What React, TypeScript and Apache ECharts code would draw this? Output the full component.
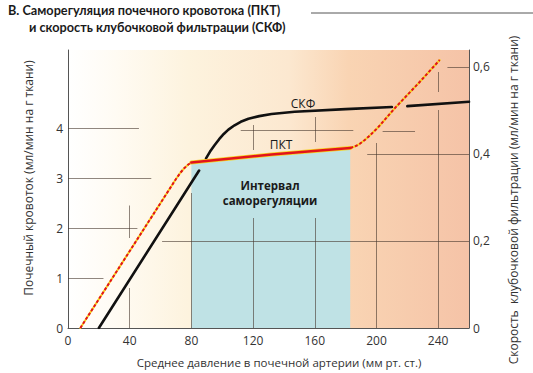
import React, { useEffect, useRef } from 'react';
import * as echarts from 'echarts';

// Axis ticks
const xTicks = [0, 40, 80, 120, 160, 200, 240];
const leftTicks = [0, 1, 2, 3, 4];
const rightTicks = [0, 0.2, 0.4, 0.6];

// ПКТ — почечный кровоток (мл/мин на г ткани), left axis
const pktRise = [[8, 0], [70, 2.98], [73, 3.11], [75.5, 3.2], [78, 3.27], [80, 3.31]];
const pktPlateau = [[80, 3.31], [132, 3.47], [183, 3.6]];
const pktHigh = [[183, 3.6], [186, 3.63], [189, 3.68], [192, 3.75], [195, 3.83], [198, 3.92], [201, 4.01], [212, 4.4], [228, 4.92], [241, 5.36]];

// СКФ — скорость клубочковой фильтрации (мл/мин на г ткани), right axis
const gfrRise = [[20, 0], [85, 0.362]];
const gfrBend = [[89.5, 0.39], [92, 0.405], [95, 0.42], [98, 0.434], [101, 0.446], [104, 0.456], [108, 0.466], [112, 0.474], [117, 0.481], [124, 0.487], [132, 0.492], [147, 0.497], [180, 0.503], [210, 0.508]];
const gfrHigh = [[220, 0.51], [260, 0.52]];

// Decorative broken grid segments (data units)
const hSegLeft = [[4, 0, 46], [3.96, 112, 185], [3.94, 204, 225], [3, 0, 54], [2, 0, 45], [1, 0, 23]]; // [y, x1, x2]
const vSegLeft = [[40, 1.8, 2.45], [40, 0, 0.8], [80, 0, 2.7], [120, 0, 2.2], [120, 3.56, 4.06], [160, 0, 2.2], [160, 3.72, 4.22], [200, 0, 3.7], [240, 0, 4.36], [240, 4.72, 5.12]]; // [x, y1, y2]
const hSegRight = [[0.6, 246, 260], [0.4, 194, 260], [0.2, 61, 260]]; // [y, x1, x2]

const FONT = '"Open Sans", "Noto Sans", sans-serif';
const TFONT = 'Lato, "Open Sans", sans-serif';
const RED = '#e2141c';
const YELLOW = '#f6d31e';
const GRIDC = 'rgba(70,55,45,0.6)';

export default function App() {
  const ref = useRef<HTMLDivElement>(null);
  useEffect(() => {
    if (!ref.current) return;
    const chart = echarts.init(ref.current, undefined, { renderer: 'svg' });
    const labelStyle = { color: '#333', fontSize: 12, fontFamily: FONT };
    const markLines = [
      ...hSegLeft.map(([y, a, b]) => [{ coord: [a, y] }, { coord: [b, y] }]),
      ...vSegLeft.map(([x, a, b]) => [{ coord: [x, a] }, { coord: [x, b] }]),
    ];
    const markLinesR = hSegRight.map(([y, a, b]) => [{ coord: [a, y] }, { coord: [b, y] }]);
    const mlBase = { silent: true, symbol: ['none', 'none'], label: { show: false }, lineStyle: { color: GRIDC, width: 1, type: 'solid' } };
    const line = (name: string, data: number[][], yAxisIndex: number, z: number, lineStyle: any) => ({
      type: 'line', name, data, yAxisIndex, symbol: 'none', z, lineStyle: { cap: 'round', join: 'round', ...lineStyle },
    });
    const option = {
      animation: false,
      backgroundColor: '#ffffff',
      grid: {
        left: 68, right: 64, top: 50, bottom: 45, show: true, borderWidth: 0,
        backgroundColor: new echarts.graphic.LinearGradient(0, 0, 1, 0, [
          { offset: 0, color: '#ffffff' },
          { offset: 0.12, color: '#fffbf3' },
          { offset: 0.3, color: '#fdf3de' },
          { offset: 0.55, color: '#fce8d0' },
          { offset: 0.7, color: '#f9d4b3' },
          { offset: 1, color: '#f5c3a7' },
        ]),
      },
      xAxis: {
        type: 'value', min: 0, max: 260, interval: 40,
        axisLine: { show: true, lineStyle: { color: '#555', width: 1 } },
        axisTick: { show: false }, splitLine: { show: false },
        axisLabel: { ...labelStyle, margin: 6, formatter: (v: number) => (xTicks.includes(v) ? String(v) : '') },
      },
      yAxis: [
        {
          type: 'value', min: 0, max: 5.56, interval: 1, position: 'left',
          axisLine: { show: true, lineStyle: { color: '#555', width: 1 } },
          axisTick: { show: false }, splitLine: { show: false },
          axisLabel: { ...labelStyle, margin: 5, formatter: (v: number) => (leftTicks.includes(v) ? String(v) : '') },
        },
        {
          type: 'value', min: 0, max: 0.639, interval: 0.2, position: 'right',
          axisLine: { show: true, lineStyle: { color: '#555', width: 1 } },
          axisTick: { show: false }, splitLine: { show: false },
          axisLabel: {
            ...labelStyle, margin: 4,
            formatter: (v: number) => {
              const t = rightTicks.find((r) => Math.abs(r - v) < 1e-6);
              return t === undefined ? '' : String(t).replace('.', ',');
            },
          },
        },
      ],
      series: [
        { type: 'line', name: 'area', data: pktPlateau, yAxisIndex: 0, symbol: 'none', z: 1, lineStyle: { width: 0, opacity: 0 }, areaStyle: { color: '#bfe2e5', opacity: 1 } },
        { type: 'line', name: 'gridL', data: [], yAxisIndex: 0, symbol: 'none', z: 2, markLine: { ...mlBase, data: markLines } },
        { type: 'line', name: 'gridR', data: [], yAxisIndex: 1, symbol: 'none', z: 2, markLine: { ...mlBase, data: markLinesR } },
        line('gfr1', gfrRise, 1, 3, { color: '#111', width: 2.6 }),
        line('gfr2', gfrBend, 1, 3, { color: '#111', width: 2.6 }),
        line('gfr3', gfrHigh, 1, 3, { color: '#111', width: 2.6 }),
        line('pkt1y', pktRise, 0, 4, { color: YELLOW, width: 2 }),
        line('pkt1', pktRise, 0, 5, { color: RED, width: 2, type: [3, 2], cap: 'butt' }),
        line('pkt2y', pktPlateau, 0, 4, { color: YELLOW, width: 4 }),
        line('pkt2', pktPlateau, 0, 5, { color: RED, width: 2.6 }),
        line('pkt3y', pktHigh, 0, 4, { color: YELLOW, width: 2 }),
        line('pkt3', pktHigh, 0, 5, { color: RED, width: 2, type: [3, 2], cap: 'butt' }),
      ],
      graphic: [
        { type: 'text', x: 8, y: 9.5, style: { text: 'В. Саморегуляция почечного кровотока (ПКТ)', fontSize: 12.7, lineHeight: 13, fontWeight: 'bold', fontFamily: TFONT, fill: '#1a1a1a', verticalAlign: 'middle' } },
        { type: 'text', x: 29, y: 26.5, style: { text: 'и скорость клубочковой фильтрации (СКФ)', fontSize: 12.7, lineHeight: 13, fontWeight: 'bold', fontFamily: TFONT, fill: '#1a1a1a', verticalAlign: 'middle' } },
        { type: 'line', shape: { x1: 311, y1: 13, x2: 533, y2: 13 }, style: { stroke: '#555', lineWidth: 1 } },
        { type: 'text', x: 28, y: 178, rotation: Math.PI / 2, style: { text: 'Почечный кровоток (мл/мин на г ткани)', fontSize: 12, fontFamily: FONT, fill: '#333', align: 'center', verticalAlign: 'middle' } },
        { type: 'text', x: 513, y: 200, rotation: Math.PI / 2, style: { text: 'Скорость  клубочковой фильтрации (мл/мин на г ткани)', fontSize: 12, fontFamily: FONT, fill: '#333', align: 'center', verticalAlign: 'middle' } },
        { type: 'text', x: 279, y: 362, style: { text: 'Среднее давление в почечной артерии (мм рт. ст.)', fontSize: 11.5, fontFamily: FONT, fill: '#333', align: 'center', verticalAlign: 'middle' } },
        { type: 'text', x: 270, y: 185, z: 10, style: { text: 'Интервал', fontSize: 11.5, lineHeight: 12, fontWeight: 'bold', fontFamily: FONT, fill: '#1a1a1a', align: 'center', verticalAlign: 'middle' } },
        { type: 'text', x: 270, y: 200.5, z: 10, style: { text: 'саморегуляции', fontSize: 11.5, lineHeight: 12, fontWeight: 'bold', fontFamily: FONT, fill: '#1a1a1a', align: 'center', verticalAlign: 'middle' } },
        { type: 'text', x: 303, y: 103, z: 10, style: { text: 'СКФ', fontSize: 12, fontFamily: FONT, fill: '#1a1a1a', align: 'center', verticalAlign: 'middle' } },
        { type: 'text', x: 281, y: 144, z: 10, style: { text: 'ПКТ', fontSize: 12, fontFamily: FONT, fill: '#1a1a1a', align: 'center', verticalAlign: 'middle' } },
      ],
    };
    chart.setOption(option as any);
    return () => chart.dispose();
  }, []);
  return <div ref={ref} style={{ position: 'fixed', left: 0, top: 0, width: 533, height: 373, background: '#fff' }} />;
}
